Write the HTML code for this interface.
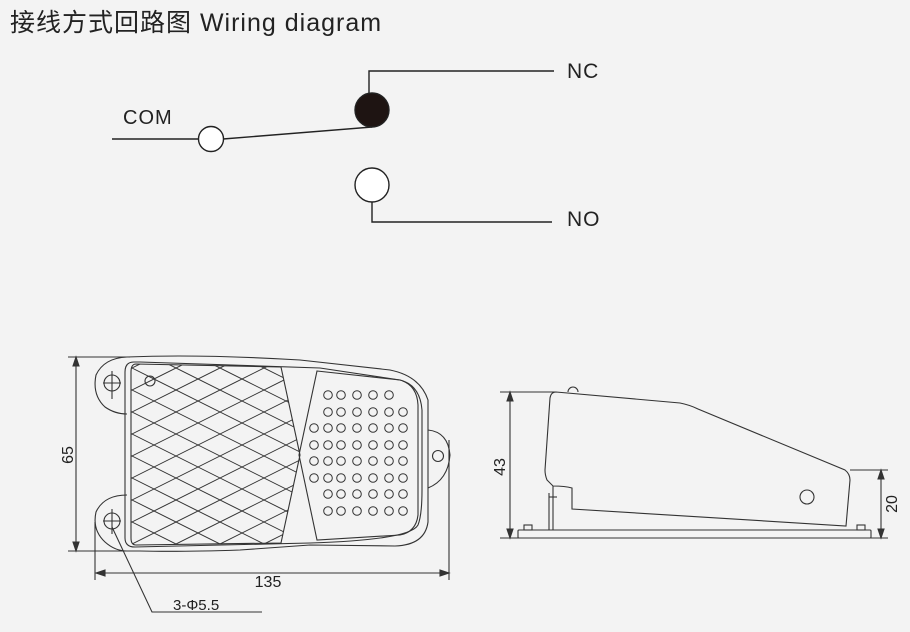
<!DOCTYPE html>
<html><head><meta charset="utf-8"><style>
html,body{margin:0;padding:0;background:#f3f3f3;width:910px;height:632px;overflow:hidden;}
svg{display:block;}
text{font-family:"Liberation Sans","Noto Sans CJK SC",sans-serif;fill:#222;}
</style></head><body>
<svg width="910" height="632" viewBox="0 0 910 632" xmlns="http://www.w3.org/2000/svg">
<rect width="910" height="632" fill="#f3f3f3"/>
<text x="10" y="31" font-size="25" letter-spacing="1">接线方式回路图 Wiring diagram</text>
<g stroke="#222" stroke-width="1.4" fill="none">
 <line x1="112" y1="139" x2="199" y2="139"/>
 <circle cx="211" cy="139" r="12.5" fill="#fff"/>
 <line x1="223" y1="139" x2="372" y2="127"/>
 <circle cx="372" cy="110" r="17" fill="#1e1412"/>
 <polyline points="369,93 369,71 554,71"/>
 <circle cx="372" cy="185" r="17" fill="#fff"/>
 <polyline points="372,202 372,222 552,222"/>
</g>
<text x="123" y="124" font-size="20" letter-spacing="1">COM</text>
<text x="567" y="78" font-size="21" letter-spacing="1">NC</text>
<text x="567" y="226" font-size="21" letter-spacing="1">NO</text>

<g stroke="#333" stroke-width="1.1" fill="none">
 <line x1="68" y1="357" x2="130" y2="357"/>
 <line x1="68" y1="551" x2="130" y2="551"/>
 <line x1="76" y1="360" x2="76" y2="548"/>
 <path d="M76 357 l-3 9 h6z M76 551 l-3 -9 h6z" fill="#333"/>
 <line x1="95" y1="522" x2="95" y2="580"/>
 <line x1="449" y1="440" x2="449" y2="580"/>
 <line x1="98" y1="573" x2="446" y2="573"/>
 <path d="M96 573 l9 -3 v6z M449 573 l-9 -3 v6z" fill="#333"/>
 <polyline points="112,527 152,612 262,612"/>
 <path d="M127 357 Q200 354 300 360 L390 370 Q420 376 428 400 L428 522 Q425 545 395 546 L310 545 L240 550 Q180 552 140 551 L125 551"/>
 <path d="M127 357 Q104 358 96 375 Q92 395 105 407 Q115 414 127 414"/>
 <path d="M127 495 Q104 495 96 512 Q92 530 105 542 Q115 551 127 551"/>
 <circle cx="112" cy="383" r="8"/><line x1="112" y1="371" x2="112" y2="399"/><line x1="103" y1="383" x2="121" y2="383"/>
 <circle cx="112" cy="521" r="8"/><line x1="112" y1="509" x2="112" y2="534"/><line x1="103" y1="521" x2="121" y2="521"/>
 <path d="M428 430 Q448 432 450 455 Q448 480 428 488"/>
 <circle cx="438" cy="456" r="5.5"/>
 <path d="M134 362 Q125 362 125 372 L125 538 Q125 547 135 547 L310 543 Q410 540 418 525 Q422 515 422 490 L422 410 Q420 385 400 380 L320 368 L140 362 Z"/>
 <path d="M136 364 L281 367 L300 455 L281 543 L136 545 Q131 545 131 538 L131 372 Q131 364 136 364 Z"/>
 <circle cx="150" cy="381" r="5"/>
 <path d="M317 371 L400 380 Q417 385 418 405 L418 515 Q416 532 400 535 L317 540 L299 455 Z"/>
</g>
<clipPath id="hc"><path d="M136 364 L281 367 L300 455 L281 543 L136 545 Q131 545 131 538 L131 372 Q131 364 136 364 Z"/></clipPath>
<g clip-path="url(#hc)" stroke="#333" stroke-width="1" id="hatch"></g>
<g stroke="#333" stroke-width="1" fill="none" id="dots"></g>

<g stroke="#333" stroke-width="1.1" fill="none">
 <line x1="500" y1="392" x2="556" y2="392"/>
 <line x1="500" y1="538" x2="556" y2="538"/>
 <line x1="510" y1="395" x2="510" y2="535"/>
 <path d="M510 392 l-3 9 h6z M510 538 l-3 -9 h6z" fill="#333"/>
 <line x1="850" y1="470" x2="888" y2="470"/>
 <line x1="860" y1="538" x2="888" y2="538"/>
 <line x1="881" y1="473" x2="881" y2="535"/>
 <path d="M881 470 l-3 9 h6z M881 538 l-3 -9 h6z" fill="#333"/>
 <path d="M568 392 A5 5 0 0 1 578 392"/>
 <path d="M556 392 L680 403 Q690 405 698 409 L845 470 Q850 474 850 480 L846 526 L572 509 L572 488 Q565 486 553 486 L547 480 Q545 475 545 470 L550 398 Q551 392 556 392 Z"/>
 <circle cx="807" cy="497" r="7"/>
 <rect x="518" y="530" width="353" height="8" rx="1"/>
 <rect x="524" y="525" width="8" height="5"/>
 <rect x="857" y="525" width="8" height="5"/>
 <line x1="549" y1="493" x2="549" y2="530"/>
 <line x1="553" y1="486" x2="553" y2="530"/>
 <line x1="549" y1="497" x2="557" y2="497"/>
</g>
<text x="268" y="587" font-size="16" text-anchor="middle">135</text>
<text x="173" y="610" font-size="15">3-Φ5.5</text>
<text transform="translate(73,455) rotate(-90)" font-size="16" text-anchor="middle">65</text>
<text transform="translate(505,467) rotate(-90)" font-size="16" text-anchor="middle">43</text>
<text transform="translate(897,504) rotate(-90)" font-size="16" text-anchor="middle">20</text>
<script>
(function(){
var ns="http://www.w3.org/2000/svg";
var h=document.getElementById("hatch");
for(var k=-20;k<20;k++){
 var b=340+k*22;
 var l=document.createElementNS(ns,"line");
 l.setAttribute("x1",120);l.setAttribute("y1",b);l.setAttribute("x2",320);l.setAttribute("y2",b+100);h.appendChild(l);
 var m=document.createElementNS(ns,"line");
 m.setAttribute("x1",120);m.setAttribute("y1",b+100);m.setAttribute("x2",320);m.setAttribute("y2",b);h.appendChild(m);
}
var d=document.getElementById("dots");
var xs=[314,328,341,357,373,389,403];
var ys=[395,412,428,445,461,478,494,511];
var rows=[[1,5],[1,6],[0,6],[0,6],[0,6],[0,6],[1,6],[1,6]];
for(var i=0;i<8;i++)for(var j=rows[i][0];j<=rows[i][1];j++){
 var c=document.createElementNS(ns,"circle");
 c.setAttribute("cx",xs[j]);c.setAttribute("cy",ys[i]);c.setAttribute("r",4.3);d.appendChild(c);
}
})();
</script>
</svg>
</body></html>
